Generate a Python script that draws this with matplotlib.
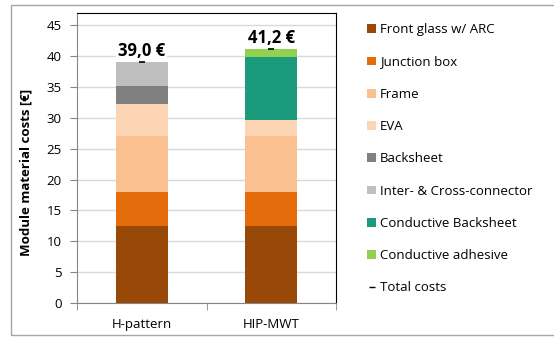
import matplotlib
matplotlib.use("Agg")
import matplotlib.pyplot as plt
from matplotlib.patches import Rectangle, Patch
from matplotlib.lines import Line2D
import numpy as np

plt.rcParams['font.family'] = ['Open Sans', 'DejaVu Sans']

categories = ["H-pattern", "HIP-MWT"]
components = ["Front glass w/ ARC", "Junction box", "Frame", "EVA", "Backsheet",
              "Inter- & Cross-connector", "Conductive Backsheet", "Conductive adhesive"]
colors = ["#984807", "#E46C0A", "#FAC090", "#FCD5B5", "#808080",
          "#BFBFBF", "#199B7C", "#92D050"]
# cost per component [€] for each module concept
h_pattern = [12.5, 5.5, 9.1, 5.2, 2.9, 3.8, 0.0, 0.0]
hip_mwt = [12.5, 5.5, 9.1, 2.6, 0.0, 0.0, 10.1, 1.4]
totals = [39.0, 41.2]
total_labels = ["39,0 €", "41,2 €"]

fig = plt.figure(figsize=(5.54, 3.38), dpi=100)
ax = fig.add_axes([0.139, 0.1036, 0.4675, 0.858])

# outer frame around the whole chart
fig.add_artist(Rectangle((11 / 554, 3 / 338), 1.0, 330 / 338, transform=fig.transFigure,
                         fill=False, edgecolor="#A6A6A6", linewidth=1.0))

x = np.arange(len(categories))
values = np.array([h_pattern, hip_mwt])
bottom = np.zeros(len(categories))
handles = []
for i, (name, col) in enumerate(zip(components, colors)):
    ax.bar(x, values[:, i], width=0.4, bottom=bottom, color=col, zorder=2)
    bottom += values[:, i]
    handles.append(Patch(facecolor=col, edgecolor="none", label=name))

# total cost markers and labels
ax.plot(x, totals, linestyle="none", marker="_", markersize=5, markeredgewidth=1.2,
        color="black", zorder=5)
for xi, t, lab in zip(x, totals, total_labels):
    ax.annotate(lab, (xi, t), xytext=(0, 4.5), textcoords="offset points",
                ha="center", va="baseline", fontsize=12, fontweight="bold",
                bbox=dict(boxstyle="square,pad=0.12", facecolor="white", edgecolor="none"),
                zorder=4)
handles.append(Line2D([], [], linestyle="none", marker="_", markersize=5,
                      markeredgewidth=1.0, color="black", label="Total costs"))

ax.set_xlim(-0.5, 1.5)
ax.set_ylim(0, 47)
ax.set_yticks(np.arange(0, 46, 5))
ax.yaxis.grid(True, color="#D9D9D9", linewidth=1.0, zorder=0)
ax.set_axisbelow(True)
ax.set_xticks(x)
ax.set_xticklabels(categories)
ax.set_xticks([-0.5, 0.5, 1.5], minor=True)
ax.tick_params(axis="x", which="major", length=0, pad=11, labelsize=9.5)
ax.tick_params(axis="x", which="minor", length=5, color="#868686", direction="out")
ax.tick_params(axis="y", length=5, color="#868686", pad=6, labelsize=9.5)

for s in ("left", "bottom"):
    ax.spines[s].set_color("#868686")
for s in ("top", "right"):
    ax.spines[s].set_color("black")
    ax.spines[s].set_linewidth(0.8)

ax.set_ylabel("Module material costs [€]", fontsize=9.5, fontweight="bold")
ax.yaxis.set_label_coords(-0.17, 0.45)

fig.legend(handles=handles, loc="upper left", bbox_to_anchor=(362 / 554, 1 - 18 / 338),
           frameon=False, fontsize=9.5, handlelength=0.65, handleheight=0.65,
           handletextpad=0.3, labelspacing=1.46, borderaxespad=0)

fig.savefig("out.png", dpi=100)
